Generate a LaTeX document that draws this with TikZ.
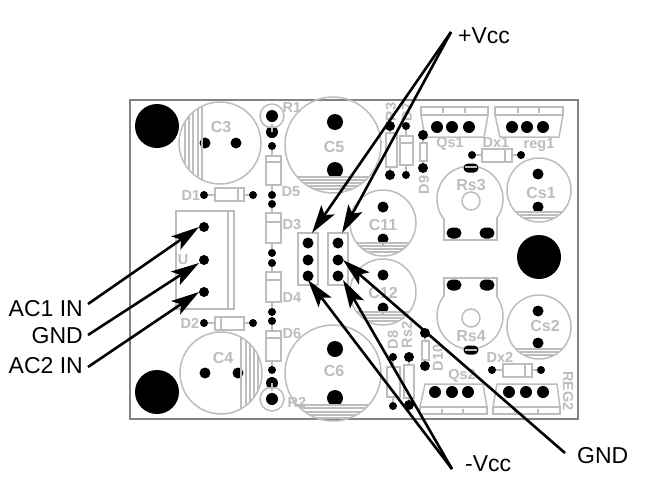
\documentclass[tikz,border=0pt]{standalone}
\usepackage{fontspec}
\setmainfont{Liberation Sans}
\usetikzlibrary{arrows.meta}
\definecolor{silk}{HTML}{BDBDBD}
\definecolor{edgec}{HTML}{7F867F}
\tikzset{
  silkline/.style={draw=silk,line width=1.5pt},
  hatchline/.style={draw=silk,line width=1.1pt},
  board/.style={draw=edgec,line width=2pt},
  padc/.style={circle,fill=black,draw=none,minimum size=#1,inner sep=0pt},
  lbl/.style={text=silk,font=\fontsize{14.5}{15}\selectfont\bfseries,inner sep=0pt},
  biglbl/.style={text=silk,font=\fontsize{16}{16}\selectfont\bfseries,inner sep=0pt},
  blk/.style={text=black,font=\fontsize{23}{23}\selectfont,inner sep=0pt},
  arr/.style={draw=black,line width=2.6pt,-{Stealth[length=28pt,width=16pt,inset=6pt]}},
}
\newcommand{\pad}[3]{\node[padc=#3] at (#1,#2) {};}
\newcommand{\padoval}[3]{\fill[black,rounded corners=#3pt] (#1-7.5,#2-#3) rectangle (#1+7.5,#2+#3);}
\newcommand{\caph}[4]{\draw[silkline] (#1,#2) circle (#3);
  \begin{scope}\clip (#1,#2) circle (#3);
  \foreach \yy in {#4}{\draw[hatchline] (#1-#3,\yy) -- (#1+#3,\yy);}\end{scope}}
\newcommand{\capv}[4]{\draw[silkline] (#1,#2) circle (#3);
  \begin{scope}\clip (#1,#2) circle (#3);
  \foreach \xx in {#4}{\draw[hatchline] (\xx,#2-#3) -- (\xx,#2+#3);}\end{scope}}
\begin{document}
\begin{tikzpicture}[x=1pt,y=-1pt]
\useasboundingbox (0,0) rectangle (649,485);
\fill[white] (0,0) rectangle (649,485);
\draw[board] (130,100) rectangle (578,419);
% mounting holes
\pad{157}{126}{44pt}\pad{157}{392}{44pt}\pad{539}{257}{44pt}
% pads of electrolytic caps, then outlines
\pad{205}{143}{11pt}\pad{236}{143}{11pt}
\pad{205}{373}{11pt}\pad{238}{373}{11pt}
\pad{335}{122}{16pt}\pad{335}{170}{16pt}
\pad{335}{349}{16pt}\pad{335}{398}{16pt}
\pad{383}{207}{11pt}\pad{383}{239}{11pt}
\pad{383}{275}{11pt}\pad{383}{308}{11pt}
\pad{538}{174}{11pt}\pad{538}{207}{11pt}
\pad{538}{311}{11pt}\pad{538}{343}{11pt}
\capv{220}{143}{41}{185,189,193,198,202}
\capv{221}{373}{41}{241,246,250,254,258}
\caph{333}{145}{48}{177,180,183,186,189}
\caph{333}{373}{48}{405,408,412,415,418}
\caph{383}{223}{33}{243,246,249,252}
\caph{383}{292}{33}{312,315,318,321}
\caph{539}{190}{32}{212,215,218}
\caph{539}{327}{32}{349,352,355}
\node[biglbl] at (221,127) {C3};
\node[biglbl] at (223,358) {C4};
\node[biglbl] at (334,147) {C5};
\node[biglbl] at (334,371) {C6};
\node[biglbl] at (383,225) {C11};
\node[biglbl] at (383,293) {C12};
\node[biglbl] at (541,193) {Cs1};
\node[biglbl] at (545,326) {Cs2};
% pots
\draw[silkline] plot[domain=144:396,samples=70] ({470+33*cos(\x)},{199+33*sin(\x)});
\draw[silkline] (444,218) -- (444,240) -- (497,240) -- (497,218);
\draw[silkline] (471,201) circle (9);
\padoval{471}{168}{4.5}\padoval{454}{233}{5.5}\padoval{487}{233}{5.5}
\draw[silkline] (465,167) -- (477,167);
\node[biglbl] at (471,185) {Rs3};
\draw[silkline] plot[domain=-36:216,samples=70] ({470+33*cos(\x)},{316+33*sin(\x)});
\draw[silkline] (444,297) -- (444,278) -- (497,278) -- (497,297);
\draw[silkline] (471,318) circle (9);
\padoval{471}{350}{4.5}\padoval{454}{285}{5.5}\padoval{487}{285}{5.5}
\draw[silkline] (465,350) -- (477,350);
\node[biglbl] at (471,336) {Rs4};
% TO-220 footprints
\draw[silkline] (421,107) rectangle (488,115);
\draw[silkline] (421,115) -- (425,137) -- (484,137) -- (488,115);
\draw[hatchline] (443,108) -- (443,113) (465,108) -- (465,113);
\pad{437}{127}{12pt}\pad{452}{127}{12pt}\pad{469}{127}{12pt}
\node[lbl] at (450,144) {Qs1};
\draw[silkline] (495,107) rectangle (563,115);
\draw[silkline] (495,115) -- (500,137) -- (559,137) -- (563,115);
\draw[hatchline] (518,108) -- (518,113) (539,108) -- (539,113);
\pad{512}{127}{12pt}\pad{527}{127}{12pt}\pad{543}{127}{12pt}
\node[lbl] at (539,145) {reg1};
\draw[silkline] (425,384) -- (483,384) -- (487,407) -- (420,407) -- cycle;
\draw[silkline] (420,407) rectangle (487,414);
\draw[hatchline] (442,409) -- (442,413) (463,409) -- (463,413);
\pad{435}{392}{12pt}\pad{452}{392}{12pt}\pad{468}{392}{12pt}
\node[lbl] at (462,376) {Qs2};
\draw[silkline] (497,384) -- (557,384) -- (560,407) -- (493,407) -- cycle;
\draw[silkline] (493,407) rectangle (560,414);
\draw[hatchline] (515,409) -- (515,413) (538,409) -- (538,413);
\pad{509}{392}{12pt}\pad{526}{392}{12pt}\pad{543}{392}{12pt}
\node[lbl,rotate=-90] at (568,391) {REG2};
% Dx1 Dx2
\draw[silkline] (472,155) -- (521,155);
\draw[silkline,fill=white] (482,149) rectangle (512,162);
\draw[silkline] (505,149) -- (505,162);
\pad{472}{155}{8pt}\pad{521}{155}{8pt}
\node[lbl] at (496,143) {Dx1};
\draw[silkline] (492,370) -- (541,370);
\draw[silkline,fill=white] (503,364) rectangle (532,377);
\draw[silkline] (525,364) -- (525,377);
\pad{492}{370}{8pt}\pad{541}{370}{8pt}
\node[lbl] at (500,357) {Dx2};
% D9 D10
\draw[silkline] (423,135) -- (423,168);
\draw[silkline,fill=white] (420,143) rectangle (427,161);
\pad{423}{135}{10pt}\pad{423}{168}{10pt}
\node[lbl,rotate=90] at (424,185) {D9};
\draw[silkline] (425,333) -- (425,366);
\draw[silkline,fill=white] (422,341) rectangle (429,360);
\pad{425}{333}{10pt}\pad{425}{366}{10pt}
\node[lbl,rotate=90] at (438,358) {D10};
% upper pair
\draw[silkline] (390,126) -- (390,175) (406,126) -- (406,175);
\draw[silkline,fill=white] (386,133) rectangle (397,167);
\draw[silkline,fill=white] (400,136) rectangle (413,165);
\draw[silkline] (400,143) -- (413,143);
\pad{390}{126}{10pt}\pad{390}{175}{10pt}\pad{406}{126}{8pt}\pad{406}{175}{8pt}
\node[lbl,rotate=90] at (391,112) {R3};
\node[lbl,rotate=90] at (407,112) {D7};
% lower pair
\draw[silkline] (393,357) -- (393,406) (409,357) -- (409,405);
\draw[silkline,fill=white] (387,367) rectangle (400,397);
\draw[silkline,fill=white] (404,365) rectangle (414,398);
\pad{393}{357}{8pt}\pad{393}{406}{8pt}\pad{409}{357}{10pt}\pad{409}{405}{10pt}
\node[lbl,rotate=90] at (393,340) {D8};
\node[lbl,rotate=90] at (407,335) {Rs2};
% connector
\draw[silkline] (176,211) rectangle (234,309);
\draw[silkline] (228,211) -- (228,309);
\node[lbl] at (183,260) {U};
\pad{204}{227}{10pt}\pad{204}{260}{10pt}\pad{204}{292}{10pt}
% D1 D2
\draw[silkline] (204,195) -- (253,195);
\draw[silkline,fill=white] (215,188) rectangle (244,201);
\draw[silkline] (238,188) -- (238,201);
\pad{204}{195}{8pt}\pad{253}{195}{8pt}
\node[lbl] at (191,196) {D1};
\draw[silkline] (204,323) -- (253,323);
\draw[silkline,fill=white] (215,317) rectangle (244,330);
\draw[silkline] (221,317) -- (221,330);
\pad{204}{323}{8pt}\pad{253}{323}{8pt}
\node[lbl] at (190,323) {D2};
% column diodes
\draw[silkline] (272,146) -- (272,195) (272,204) -- (272,253) (272,263) -- (272,312) (272,321) -- (272,370);
\draw[silkline,fill=white] (266,156) rectangle (281,185);
\draw[silkline] (266,162) -- (281,162);
\draw[silkline,fill=white] (266,213) rectangle (281,243);
\draw[silkline] (266,222) -- (281,222);
\draw[silkline,fill=white] (266,272) rectangle (281,302);
\draw[silkline] (266,280) -- (281,280);
\draw[silkline,fill=white] (266,331) rectangle (281,361);
\draw[silkline] (266,338) -- (281,338);
\pad{272}{146}{8pt}\pad{272}{195}{8pt}\pad{272}{204}{8pt}\pad{272}{253}{8pt}
\pad{272}{263}{8pt}\pad{272}{312}{8pt}\pad{272}{321}{8pt}\pad{272}{370}{8pt}
\node[lbl] at (291,192) {D5};
\node[lbl] at (292,225) {D3};
\node[lbl] at (292,298) {D4};
\node[lbl] at (292,334) {D6};
% R1 R2
\draw[silkline] (272,116) circle (12);
\pad{272}{116}{12pt}\pad{272}{132}{12pt}
\draw[hatchline] (272,124) -- (272,132) (268,127) -- (276,127);
\node[lbl] at (292,108) {R1};
\draw[silkline] (272,399) circle (12);
\pad{272}{399}{12pt}\pad{272}{383}{12pt}
\draw[hatchline] (272,383) -- (272,391) (268,388) -- (276,388);
\node[lbl] at (297,402) {R2};
% headers
\draw[silkline] (298,233) rectangle (318,285);
\draw[silkline] (328,233) rectangle (348,285);
\pad{308}{243}{11pt}\pad{308}{260}{11pt}\pad{308}{276}{11pt}
\pad{338}{243}{11pt}\pad{338}{260}{11pt}\pad{338}{276}{11pt}
% labels + arrows
\node[blk,anchor=east] (ac1) at (83,309) {AC1 IN};
\node[blk,anchor=east] (gnda) at (83,336) {GND};
\node[blk,anchor=east] (ac2) at (83,366) {AC2 IN};
\node[blk,anchor=west] (pvcc) at (458,36) {+Vcc};
\node[blk,anchor=west] (mvcc) at (465,464) {-Vcc};
\node[blk,anchor=west] (gndb) at (577,456) {GND};
\coordinate (a1s) at (88,304); \coordinate (a1t) at (199,227);
\coordinate (a2s) at (88,335); \coordinate (a2t) at (199,263);
\coordinate (a3s) at (88,367); \coordinate (a3t) at (199,292);
\coordinate (pv) at (451,32); \coordinate (j1t) at (312,233); \coordinate (j2t) at (342,233);
\coordinate (mv) at (452,469); \coordinate (j3t) at (308,280); \coordinate (j4t) at (343,280);
\coordinate (gs) at (565,453); \coordinate (g2t) at (343,260);
\draw[arr] (a1s) -- (a1t);
\draw[arr] (a2s) -- (a2t);
\draw[arr] (a3s) -- (a3t);
\draw[arr] (pv) -- (j1t);
\draw[arr] (pv) -- (j2t);
\draw[arr] (mv) -- (j3t);
\draw[arr] (mv) -- (j4t);
\draw[arr] (gs) -- (g2t);
\end{tikzpicture}
\end{document}
